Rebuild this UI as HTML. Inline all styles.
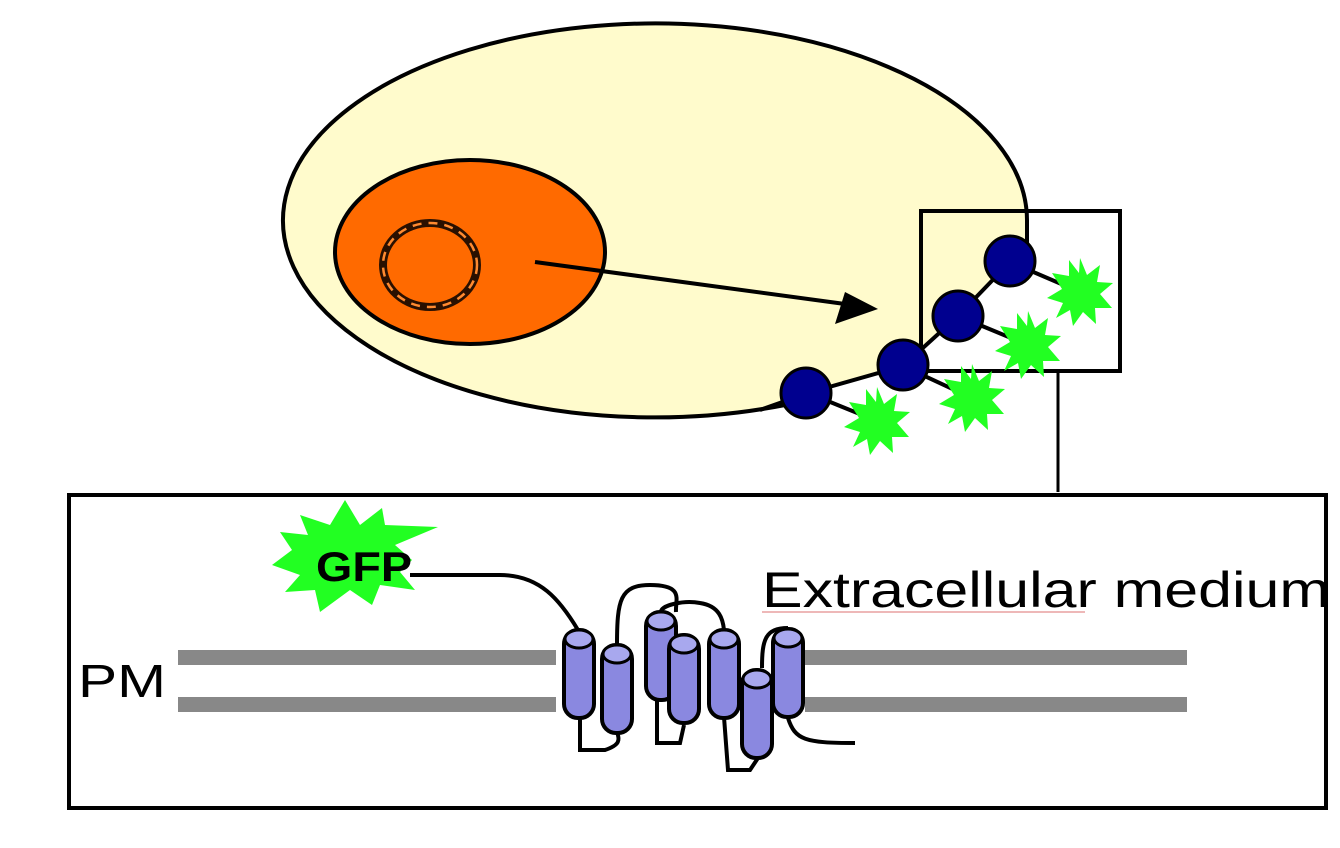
<!DOCTYPE html>
<html><head><meta charset="utf-8"><style>html,body{margin:0;padding:0;background:#fff;}svg{display:block}</style></head>
<body>
<svg width="1340" height="848" viewBox="0 0 1340 848" xmlns="http://www.w3.org/2000/svg">
<defs>
<g id="st"><polygon points="0,-34 7,-17 20,-27 17,-10 33,-9 20,2 32,16 15,16 16,32 3,20 -7,34 -10,18 -24,26 -17,11 -33,6 -18,-3 -28,-19 -11,-16 -11,-32 -1,-19" fill="#22ff22"/></g>
<g id="cyl"><rect x="-15" y="0" width="30" height="88" rx="14" fill="#8a88e0" stroke="#000" stroke-width="4"/><ellipse cx="0" cy="9" rx="14" ry="9" fill="#a8a8ee" stroke="#000" stroke-width="3"/></g>
</defs>
<path d="M1027,240 L1027,220 A372 197 0 1 0 785,405 L808,393 L903,366 L958,316 L1010,262 Z" fill="#fffbcc"/>
<path d="M1027,245 L1027,220 A372 197 0 1 0 785,405" fill="none" stroke="#000" stroke-width="4"/>
<ellipse cx="470" cy="252" rx="135" ry="92" fill="#ff6a00" stroke="#000" stroke-width="4"/>
<ellipse cx="430" cy="265" rx="47" ry="42" fill="none" stroke="#2a1000" stroke-width="8"/>
<ellipse cx="430" cy="265" rx="47" ry="42" fill="none" stroke="#ff8a30" stroke-width="2.5" stroke-dasharray="9 7"/>
<line x1="535" y1="262" x2="845" y2="304" stroke="#000" stroke-width="4"/>
<polygon points="878,309 835,324 845,292" fill="#000"/>
<rect x="921" y="211" width="199" height="160" fill="none" stroke="#000" stroke-width="4"/>
<line x1="1058" y1="371" x2="1058" y2="492" stroke="#000" stroke-width="3"/>
<g stroke="#000" stroke-width="4">
<line x1="760" y1="410" x2="808" y2="393"/><line x1="808" y1="393" x2="903" y2="366"/><line x1="903" y1="366" x2="958" y2="316"/><line x1="958" y1="316" x2="1010" y2="262"/>
<line x1="808" y1="393" x2="877" y2="421"/><line x1="903" y1="366" x2="972" y2="398"/><line x1="958" y1="316" x2="1028" y2="345"/><line x1="1010" y1="262" x2="1080" y2="292"/>
</g>
<use href="#st" x="877" y="421"/><use href="#st" x="972" y="398"/><use href="#st" x="1028" y="345"/><use href="#st" x="1080" y="292"/>
<g fill="#00008f" stroke="#000" stroke-width="3">
<circle cx="806" cy="393" r="25"/><circle cx="903" cy="365" r="25"/><circle cx="958" cy="316" r="25"/><circle cx="1010" cy="261" r="25"/>
</g>
<rect x="69" y="495" width="1257" height="313" fill="#fff" stroke="#000" stroke-width="4"/>
<rect x="178" y="650" width="378" height="15" fill="#888"/><rect x="178" y="697" width="378" height="15" fill="#888"/>
<rect x="805" y="650" width="382" height="15" fill="#888"/><rect x="805" y="697" width="382" height="15" fill="#888"/>
<text x="78" y="697" font-family="Liberation Sans, sans-serif" font-size="46" textLength="88" lengthAdjust="spacingAndGlyphs">PM</text>
<text x="762" y="607" font-family="Liberation Sans, sans-serif" font-size="50" textLength="568" lengthAdjust="spacingAndGlyphs">Extracellular medium</text>
<line x1="762" y1="612" x2="1085" y2="612" stroke="#e8a0a0" stroke-width="1.5"/>
<g fill="none" stroke="#000" stroke-width="4">
<path d="M410,575 L500,575 C540,575 560,600 578,630"/>
<path d="M617,645 C617,600 620,585 650,585 C685,585 675,600 676,612"/>
<path d="M661,612 C661,605 684,600 700,603 C720,606 723,620 724,630"/>
<path d="M762,668 C762,640 765,628 788,628"/>
<path d="M580,715 L580,750 L605,750 C620,745 620,740 617,732"/>
<path d="M657,700 L657,743 L680,743 L684,725"/>
<path d="M724,717 L728,770 L750,770 L758,758"/>
<path d="M788,718 C795,740 805,743 855,743"/>
</g>
<use href="#cyl" x="579" y="630"/>
<use href="#cyl" x="617" y="645"/>
<use href="#cyl" x="661" y="612"/>
<use href="#cyl" x="684" y="635"/>
<use href="#cyl" x="724" y="630"/>
<use href="#cyl" x="757" y="670"/>
<use href="#cyl" x="788" y="629"/>
<polygon points="345,500 360,525 382,508 385,525 438,527 395,545 412,560 400,572 415,590 380,585 372,605 350,590 320,612 315,590 285,592 300,575 272,565 292,550 280,532 308,535 300,515 330,525" fill="#22ff22"/>
<text x="316" y="581" font-family="Liberation Sans, sans-serif" font-size="42" font-weight="bold" textLength="96" lengthAdjust="spacingAndGlyphs">GFP</text>
</svg>
</body></html>
